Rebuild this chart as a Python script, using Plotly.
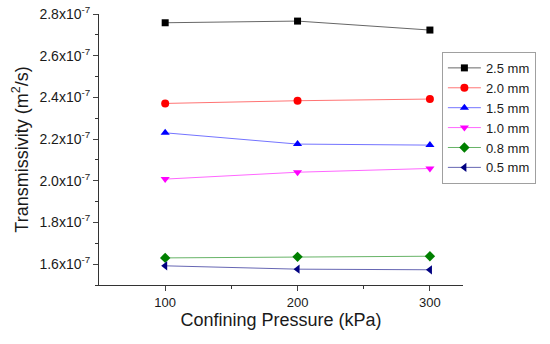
import plotly.graph_objects as go

pressure = [100, 200, 300]
series_names = ["2.5 mm", "2.0 mm", "1.5 mm", "1.0 mm", "0.8 mm", "0.5 mm"]
t_25 = [2.758e-7, 2.766e-7, 2.723e-7]
t_20 = [2.371e-7, 2.384e-7, 2.392e-7]
t_15 = [2.230e-7, 2.176e-7, 2.171e-7]
t_10 = [2.008e-7, 2.041e-7, 2.059e-7]
t_08 = [1.630e-7, 1.635e-7, 1.638e-7]
t_05 = [1.592e-7, 1.576e-7, 1.573e-7]
values = [t_25, t_20, t_15, t_10, t_08, t_05]

y_tick_vals = [1.6e-7, 1.8e-7, 2.0e-7, 2.2e-7, 2.4e-7, 2.6e-7, 2.8e-7]
y_tick_text = ["1.6x10<sup>-7</sup>", "1.8x10<sup>-7</sup>", "2.0x10<sup>-7</sup>",
               "2.2x10<sup>-7</sup>", "2.4x10<sup>-7</sup>", "2.6x10<sup>-7</sup>",
               "2.8x10<sup>-7</sup>"]
x_tick_vals = [100, 200, 300]

colors = ["#000000", "#ff0000", "#0000ff", "#ff00ff", "#008000", "#000080"]
line_colors = ["rgba(0,0,0,0.6)", "rgba(255,0,0,0.55)", "rgba(0,0,255,0.55)",
               "rgba(255,0,255,0.6)", "rgba(0,128,0,0.6)", "rgba(0,0,128,0.6)"]
symbols = ["square", "circle", "triangle-up", "triangle-down", "diamond", "triangle-left"]
sizes = [7, 8, 8, 8, 8, 8]

fig = go.Figure()
for name, vals, c, lc, s, sz in zip(series_names, values, colors, line_colors, symbols, sizes):
    fig.add_trace(go.Scatter(
        x=pressure, y=vals, name=name, mode="lines+markers",
        line=dict(color=lc, width=1),
        marker=dict(color=c, symbol=s, size=sz, line=dict(width=0)),
    ))

font_family = "Liberation Sans, Arial, sans-serif"
fig.update_layout(
    width=550, height=344,
    margin=dict(l=99, r=87, t=14, b=59),
    plot_bgcolor="white", paper_bgcolor="white",
    font=dict(family=font_family, color="#1a1a1a", size=13),
    showlegend=True,
    legend=dict(x=0.942, y=0.86, xanchor="left", yanchor="top",
                bordercolor="#a0a0a0", borderwidth=1, bgcolor="white",
                font=dict(size=13), tracegroupgap=0, itemwidth=33),
    xaxis=dict(
        range=[50, 325], tickvals=x_tick_vals, ticks="outside", ticklen=5,
        showline=True, linecolor="#333333", linewidth=1, showgrid=False,
        zeroline=False, tickfont=dict(size=13), automargin=False,
        minor=dict(tickvals=[150, 250], ticks="outside", ticklen=3, tickcolor="#333333"),
        title=dict(text="Confining Pressure (kPa)", font=dict(size=18), standoff=4),
    ),
    yaxis=dict(
        range=[1.5e-7, 2.8e-7], tickvals=y_tick_vals, ticktext=y_tick_text,
        ticks="outside", ticklen=5, showline=True, linecolor="#333333", linewidth=1,
        showgrid=False, zeroline=False, tickfont=dict(size=14), automargin=False,
        ticklabeloverflow="allow",
        minor=dict(tickvals=[1.5e-7, 1.7e-7, 1.9e-7, 2.1e-7, 2.3e-7, 2.5e-7, 2.7e-7],
                   ticks="outside", ticklen=3, tickcolor="#333333"),
        title=dict(text="Transmissivity (m<sup>2</sup>/s)", font=dict(size=18), standoff=6),
    ),
)
fig.write_html("out.html",
               config={"displayModeBar": False},
               post_script="document.body.style.margin='0';document.body.style.overflow='hidden';")
